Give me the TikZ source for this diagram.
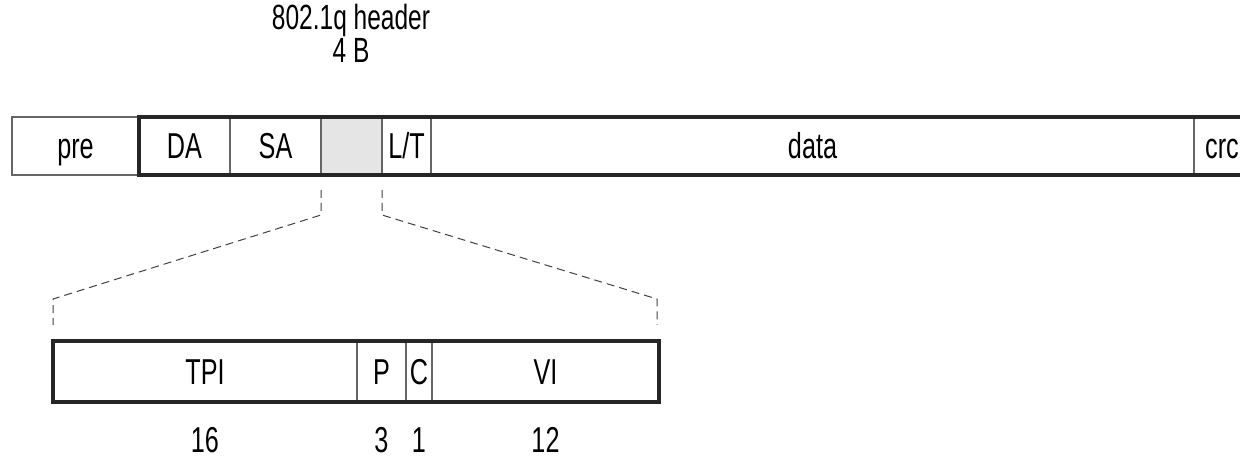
\documentclass[tikz,border=0pt]{standalone}
\usepackage{fontspec}
\setmainfont[FakeStretch=0.7]{Liberation Sans}
\usetikzlibrary{positioning}
\tikzset{
  field/.style={draw=black!60, line width=0.6pt, inner sep=0pt, outer sep=0pt,
    minimum height=29pt, font=\fontsize{18}{20}\selectfont,
    text height=12.9pt, text depth=0pt},
  tagfield/.style={field, minimum height=30.5pt},
  frame/.style={draw=black!85, line width=1.6pt},
  zoomline/.style={draw=black!75, line width=0.5pt, dash pattern=on 4pt off 2.5pt},
  bits/.style={inner sep=0pt, font=\fontsize{18}{20}\selectfont,
    text height=12.9pt, text depth=0pt},
  caption/.style={anchor=south, inner sep=0pt, align=center,
    font=\fontsize{17.5}{12.5}\selectfont}
}
\begin{document}
\begin{tikzpicture}[x=0.5pt, y=-0.5pt]
	\clip (0,0) rectangle (1240,458);
	% header label
	\node[caption] (title) at (351,63) {802.1q header\\4 B};
	% ethernet frame
	\node[field, anchor=north west, minimum width=63.5pt] (pre) at (12,117) {pre};
	\node[field, minimum width=45.5pt, right=0pt of pre] (da) {DA};
	\node[field, minimum width=45.5pt, right=0pt of da] (sa) {SA};
	\node[field, fill=black!10, minimum width=30.5pt, right=0pt of sa] (hdr) {};
	\node[field, minimum width=24.5pt, right=0pt of hdr] (lt) {L/T};
	\node[field, minimum width=381.5pt, right=0pt of lt] (data) {data};
	\node[field, minimum width=28pt, right=0pt of data] (crc) {crc};
	\draw[frame] (da.north west) rectangle (crc.south east);
	% tag fields
	\node[tagfield, anchor=north west, minimum width=152pt] (tpi) at (53,341) {TPI};
	\node[tagfield, minimum width=24.5pt, right=0pt of tpi] (p) {P};
	\node[tagfield, minimum width=13pt, right=0pt of p] (c) {C};
	\node[tagfield, minimum width=113.5pt, right=0pt of c] (vi) {VI};
	\draw[frame] (tpi.north west) rectangle (vi.south east);
	% widths in bits
	\coordinate (numrow) at (0,440);
	\node[bits] (n16) at (tpi |- numrow) {16};
	\node[bits] (n3) at (p |- numrow) {3};
	\node[bits] (n1) at (c |- numrow) {1};
	\node[bits] (n12) at (vi |- numrow) {12};
	% zoom lines
	\draw[zoomline] ([yshift=-7.5pt]hdr.south west) -- ([yshift=-20pt]hdr.south west)
		-- ([yshift=21pt]tpi.north west) -- ([yshift=8pt]tpi.north west);
	\draw[zoomline] ([yshift=-7.5pt]hdr.south east) -- ([yshift=-20pt]hdr.south east)
		-- ([xshift=-1pt, yshift=21pt]vi.north east) -- ([xshift=-1pt, yshift=8pt]vi.north east);
\end{tikzpicture}
\end{document}
